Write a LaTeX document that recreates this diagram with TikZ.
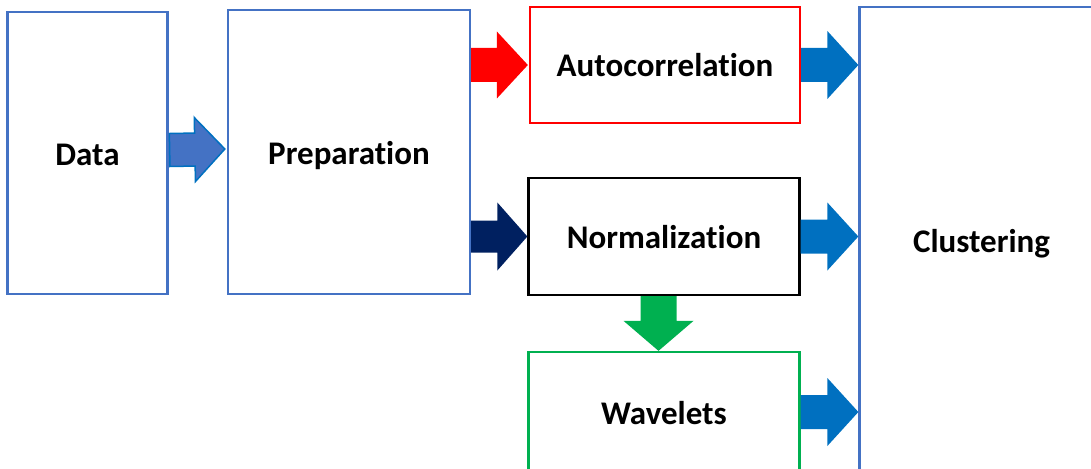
\documentclass[tikz,border=0pt]{standalone}
\usepackage{fontspec}
\setmainfont{Carlito}[Ligatures=NoCommon]
\usetikzlibrary{calc}

\definecolor{boxblue}{HTML}{4472C4}
\definecolor{arrowblue}{HTML}{0070C0}
\definecolor{navy}{HTML}{002060}
\definecolor{boxgreen}{HTML}{00B050}
\definecolor{boxred}{HTML}{FF0000}

\tikzset{
  stage/.style={draw, line width=2.3pt, fill=white, inner sep=0pt,
    text height=25pt, text depth=1pt,
    font=\fontsize{33}{38}\selectfont\bfseries, text=black},
  % block arrow from start to target: #1 shaft half width, #2 head half width, #3 head length
  blockarrow/.style n args={3}{to path={
    ($(\tikztostart)!#1!90:(\tikztotarget)$)
    -- ($($(\tikztotarget)!#3!(\tikztostart)$)!#1!-90:(\tikztostart)$)
    -- ($($(\tikztotarget)!#3!(\tikztostart)$)!#2!-90:(\tikztostart)$)
    -- (\tikztotarget)
    -- ($($(\tikztotarget)!#3!(\tikztostart)$)!#2!90:(\tikztostart)$)
    -- ($($(\tikztotarget)!#3!(\tikztostart)$)!#1!90:(\tikztostart)$)
    -- ($(\tikztostart)!#1!-90:(\tikztotarget)$) -- cycle}},
  bigarrow/.style={blockarrow={17pt}{34pt}{31pt}}
}

\begin{document}
\begin{tikzpicture}[x=1pt, y=-1pt]
  \useasboundingbox (0,0) rectangle (1091,468);
  \clip (0,0) rectangle (1091,468);

  % stages
  \node[stage, draw=boxblue, minimum width=160pt, minimum height=282pt] (data) at (87.5,153) {Data};
  \node[stage, draw=boxblue, minimum width=242pt, minimum height=284pt] (prep) at (349,152) {Preparation};
  \node[stage, draw=boxred, minimum width=270pt, minimum height=116pt] (auto) at (665,65) {Autocorrelation};
  \node[stage, draw=black, minimum width=271pt, minimum height=117pt] (norm) at (664,236.5) {Normalization};
  \node[stage, draw=boxgreen, minimum width=271pt, minimum height=120pt] (wav) at (664,412) {Wavelets};
  \node[stage, draw=boxblue, minimum width=244pt, minimum height=466pt] (clust) at (981.5,240) {Clustering};

  % flow between stages
  \draw[fill=boxblue, draw=arrowblue, line width=1.5pt, line join=miter]
    ($(data.east)+(1,-3)$) to[blockarrow={16.5pt}{32pt}{30pt}] ($(prep.west)+(-2,-3)$);
  \fill[boxred] (prep.east |- auto.west) to[blockarrow={17pt}{33.5pt}{31pt}] ($(auto.west)+(-1,0)$);
  \fill[navy] (prep.east |- norm.west) to[blockarrow={16pt}{34pt}{30pt}] (norm.west);
  \fill[boxgreen] ($(norm.south)+(-5.5,0)$) to[blockarrow={18pt}{35pt}{30pt}] ($(wav.north)+(-5.5,0)$);
  \fill[arrowblue] (auto.east) to[bigarrow] (clust.west |- auto.east);
  \fill[arrowblue] (norm.east) to[bigarrow] (clust.west |- norm.east);
  \fill[arrowblue] (wav.east) to[bigarrow] (clust.west |- wav.east);
\end{tikzpicture}
\end{document}
